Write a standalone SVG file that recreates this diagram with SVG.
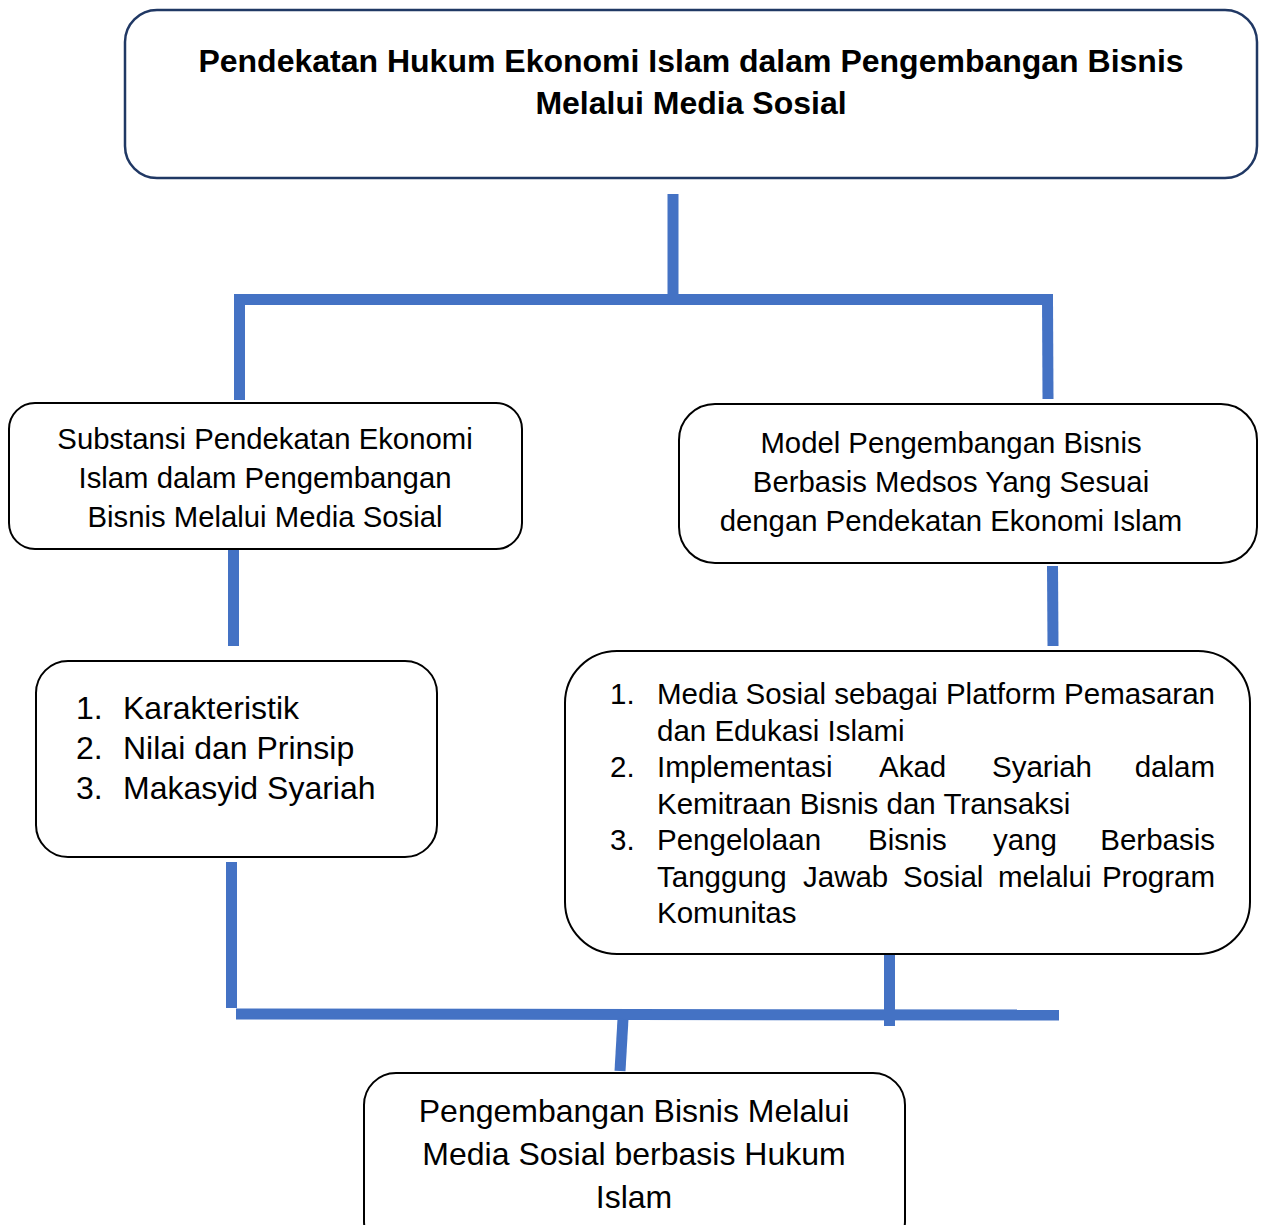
<svg xmlns="http://www.w3.org/2000/svg" width="1262" height="1225" viewBox="0 0 1262 1225">
<style>
.box{fill:#fff;stroke:#000;stroke-width:2}
.top{fill:#fff;stroke:#203864;stroke-width:2.5}
.t{font-family:"Liberation Sans",Arial,sans-serif;font-size:29.3px;fill:#000}
.c{text-anchor:middle}
.b{font-weight:bold;font-size:32px}
.l{font-size:29.5px}
.k{font-size:32px}
.con{stroke:#4472C4;stroke-width:11;fill:none}
</style>
<rect width="1262" height="1225" fill="#fff"/>
<g id="connectors">
<line class="con" x1="673" y1="194" x2="673" y2="299"/>
<line class="con" x1="234" y1="299.5" x2="1053" y2="299.5"/>
<line class="con" x1="239.5" y1="294" x2="239.5" y2="400"/>
<line class="con" x1="1047.5" y1="299" x2="1048" y2="399"/>
<line class="con" x1="233.5" y1="547" x2="233.5" y2="646"/>
<line class="con" x1="1052.5" y1="566" x2="1053" y2="646"/>
<line class="con" x1="231.5" y1="862" x2="231.5" y2="1008"/>
<line class="con" x1="236" y1="1014" x2="1059" y2="1015"/>
<line class="con" x1="889.5" y1="955" x2="889.5" y2="1026"/>
<line class="con" x1="623" y1="1019" x2="620" y2="1071"/>
</g>
<g id="node-top">
<rect class="top" x="125" y="10" width="1132" height="168" rx="32"/>
<text class="t b c" x="691" y="72">Pendekatan Hukum Ekonomi Islam dalam Pengembangan Bisnis</text>
<text class="t b c" x="691" y="114">Melalui Media Sosial</text>
</g>
<g id="node-substansi">
<rect class="box" x="9" y="403" width="513" height="146" rx="26"/>
<text class="t c" x="265" y="449">Substansi Pendekatan Ekonomi</text>
<text class="t c" x="265" y="488">Islam dalam Pengembangan</text>
<text class="t c" x="265" y="527">Bisnis Melalui Media Sosial</text>
</g>
<g id="node-model">
<rect class="box" x="679" y="404" width="578" height="159" rx="36"/>
<text class="t c" x="951" y="453">Model Pengembangan Bisnis</text>
<text class="t c" x="951" y="492">Berbasis Medsos Yang Sesuai</text>
<text class="t c" x="951" y="531">dengan Pendekatan Ekonomi Islam</text>
</g>
<g id="node-karakteristik">
<rect class="box" x="36" y="661" width="401" height="196" rx="32"/>
<text class="t k" x="76" y="719">1.</text><text class="t k" x="123" y="719">Karakteristik</text>
<text class="t k" x="76" y="759">2.</text><text class="t k" x="123" y="759">Nilai dan Prinsip</text>
<text class="t k" x="76" y="799">3.</text><text class="t k" x="123" y="799">Makasyid Syariah</text>
</g>
<g id="node-media">
<rect class="box" x="565" y="651" width="685" height="303" rx="52"/>
<text class="t l" x="610" y="704">1.</text>
<text class="t l" x="657" y="704" textLength="558" lengthAdjust="spacing">Media Sosial sebagai Platform Pemasaran</text>
<text class="t l" x="657" y="741">dan Edukasi Islami</text>
<text class="t l" x="610" y="777">2.</text>
<text class="t l" x="657" y="777">Implementasi</text>
<text class="t l" x="879" y="777">Akad</text>
<text class="t l" x="992" y="777">Syariah</text>
<text class="t l" x="1215" y="777" text-anchor="end">dalam</text>
<text class="t l" x="657" y="814">Kemitraan Bisnis dan Transaksi</text>
<text class="t l" x="610" y="850">3.</text>
<text class="t l" x="657" y="850">Pengelolaan</text>
<text class="t l" x="868" y="850">Bisnis</text>
<text class="t l" x="993" y="850">yang</text>
<text class="t l" x="1215" y="850" text-anchor="end">Berbasis</text>
<text class="t l" x="657" y="887">Tanggung</text>
<text class="t l" x="803" y="887">Jawab</text>
<text class="t l" x="903" y="887">Sosial</text>
<text class="t l" x="998" y="887">melalui</text>
<text class="t l" x="1215" y="887" text-anchor="end">Program</text>
<text class="t l" x="657" y="923">Komunitas</text>
</g>
<g id="node-bottom">
<rect class="box" x="364" y="1073" width="541" height="180" rx="32"/>
<text class="t k c" x="634" y="1122">Pengembangan Bisnis Melalui</text>
<text class="t k c" x="634" y="1165">Media Sosial berbasis Hukum</text>
<text class="t k c" x="634" y="1208">Islam</text>
</g>
</svg>
